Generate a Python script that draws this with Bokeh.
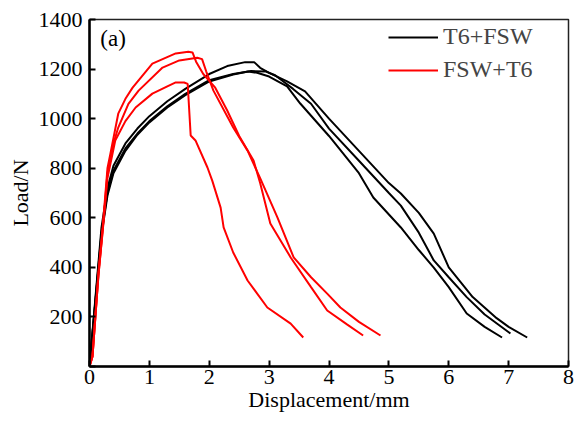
from bokeh.plotting import figure
from bokeh.models import Legend, LegendItem, Label, Range1d, FixedTicker
from bokeh.embed import file_html
from bokeh.resources import INLINE

# ---- data ----
t6fsw_1_x = [0, 0.1, 0.2, 0.3, 0.4, 0.6, 0.8, 1.0, 1.3, 1.6, 2.0, 2.3, 2.6, 2.75, 2.85, 3.0, 3.3, 3.6, 4.0, 4.5, 5.0, 5.2, 5.5, 5.75, 6.0, 6.4, 6.8, 7.0, 7.31]
t6fsw_1_y = [0, 280, 560, 720, 810, 900, 960, 1010, 1070, 1120, 1180, 1212, 1228, 1228, 1205, 1185, 1150, 1110, 1000, 870, 740, 698, 620, 536, 400, 280, 195, 160, 117]

t6fsw_2_x = [0, 0.1, 0.2, 0.3, 0.4, 0.6, 0.8, 1.0, 1.3, 1.6, 2.0, 2.4, 2.7, 2.95, 3.1, 3.4, 3.7, 4.0, 4.5, 5.0, 5.2, 5.5, 5.75, 6.0, 6.3, 6.6, 7.03]
t6fsw_2_y = [0, 270, 540, 700, 790, 880, 940, 990, 1050, 1100, 1155, 1180, 1192, 1190, 1175, 1120, 1060, 960, 830, 700, 649, 540, 428, 360, 280, 210, 133]

t6fsw_3_x = [0, 0.1, 0.2, 0.3, 0.4, 0.6, 0.8, 1.0, 1.3, 1.6, 2.0, 2.4, 2.65, 2.8, 3.0, 3.3, 3.52, 4.0, 4.5, 4.74, 5.2, 5.5, 5.75, 6.0, 6.3, 6.6, 6.89]
t6fsw_3_y = [0, 265, 530, 690, 780, 870, 935, 985, 1045, 1095, 1150, 1178, 1190, 1185, 1170, 1130, 1061, 930, 780, 682, 561, 470, 399, 320, 214, 160, 117]

fswt6_1_x = [0, 0.05, 0.15, 0.22, 0.3, 0.35, 0.48, 0.6, 0.72, 1.05, 1.44, 1.65, 1.72, 1.78, 1.9, 2.1, 2.3, 2.5, 2.74, 2.85, 3.02, 3.36, 3.7, 3.97, 4.3, 4.57]
fswt6_1_y = [0, 40, 380, 560, 800, 860, 1020, 1080, 1125, 1222, 1263, 1270, 1267, 1230, 1180, 1125, 1033, 930, 831, 740, 577, 440, 320, 226, 170, 125]

fswt6_2_x = [0, 0.05, 0.15, 0.22, 0.3, 0.4, 0.48, 0.65, 0.82, 1.22, 1.5, 1.8, 1.88, 1.95, 2.07, 2.4, 2.64, 2.85, 3.14, 3.41, 3.7, 3.97, 4.19, 4.5, 4.86]
fswt6_2_y = [0, 40, 370, 550, 780, 900, 964, 1060, 1113, 1206, 1235, 1246, 1240, 1190, 1113, 964, 871, 760, 601, 440, 360, 294, 238, 180, 125]

fswt6_3_x = [0, 0.05, 0.15, 0.22, 0.3, 0.43, 0.6, 0.77, 1.05, 1.3, 1.44, 1.58, 1.64, 1.69, 1.77, 1.97, 2.05, 2.19, 2.24, 2.4, 2.64, 2.97, 3.36, 3.57]
fswt6_3_y = [0, 40, 370, 545, 760, 912, 990, 1045, 1101, 1130, 1146, 1146, 1140, 932, 912, 803, 750, 641, 561, 460, 347, 238, 173, 117]

x_ticks = [0, 1, 2, 3, 4, 5, 6, 7, 8]
y_ticks = [0, 200, 400, 600, 800, 1000, 1200, 1400]
series_names = ["T6+FSW", "FSW+T6"]

FONT = "Liberation Serif"

p = figure(width=578, height=423, output_backend="svg", toolbar_location=None,
           x_range=Range1d(0, 8), y_range=Range1d(0, 1400),
           min_border_left=89, min_border_right=10, min_border_top=19, min_border_bottom=57)
p.grid.visible = False
p.outline_line_color = "#222222"
p.outline_line_width = 1.5
p.background_fill_color = "white"
p.border_fill_color = "white"

black_r = []
for xs, ys in [(t6fsw_1_x, t6fsw_1_y), (t6fsw_2_x, t6fsw_2_y), (t6fsw_3_x, t6fsw_3_y)]:
    black_r.append(p.line(xs, ys, line_color="black", line_width=2))
red_r = []
for xs, ys in [(fswt6_1_x, fswt6_1_y), (fswt6_2_x, fswt6_2_y), (fswt6_3_x, fswt6_3_y)]:
    red_r.append(p.line(xs, ys, line_color="#ff0000", line_width=2))

for ax in (p.xaxis[0], p.yaxis[0]):
    ax.axis_line_width = 2.5
    ax.axis_line_color = "black"
    ax.major_tick_in = 6
    ax.major_tick_out = 0
    ax.major_tick_line_width = 2
    ax.minor_tick_line_color = None
    ax.major_label_text_font = FONT
    ax.major_label_text_font_size = "22px"
    ax.major_label_text_color = "black"
    ax.axis_label_text_font = FONT
    ax.axis_label_text_font_size = "22px"
    ax.axis_label_text_font_style = "normal"
    ax.axis_label_text_color = "black"

p.xaxis.ticker = FixedTicker(ticks=x_ticks)
p.yaxis.ticker = FixedTicker(ticks=y_ticks)
p.yaxis.major_label_overrides = {0: ""}
p.xaxis.axis_label = "Displacement/mm"
p.yaxis.axis_label = "Load/N"
p.xaxis.major_label_standoff = 3
p.xaxis.axis_label_standoff = 0
p.yaxis.major_label_standoff = 7
p.yaxis.axis_label_standoff = 3

legend = Legend(items=[LegendItem(label=series_names[0], renderers=[black_r[0]]),
                       LegendItem(label=series_names[1], renderers=[red_r[0]])],
                location=(299, 283), border_line_color=None, background_fill_alpha=0,
                padding=0, margin=0, spacing=6, glyph_width=50, glyph_height=20,
                label_height=20, label_standoff=5,
                label_text_font=FONT, label_text_font_size="24px")
p.add_layout(legend)

p.add_layout(Label(x=0.18, y=1323, text="(a)", text_font=FONT, text_font_size="23px",
                   text_baseline="middle", text_align="left", text_color="black"))

open("out.html", "w").write(file_html(p, INLINE))
